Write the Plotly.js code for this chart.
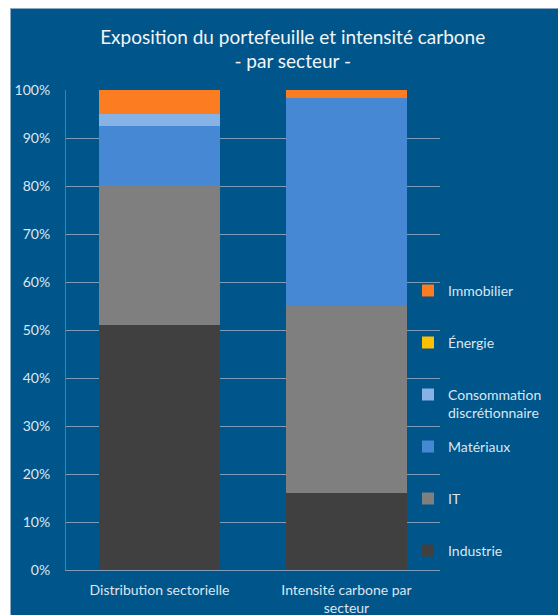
<!DOCTYPE html>
<html>
<head>
<meta charset="utf-8">
<script src="https://cdn.plot.ly/plotly-3.0.1.min.js"></script>
<style>
html,body{margin:0;padding:0;background:#ffffff;}
#frame{position:absolute;left:10px;top:8px;width:548px;height:607px;background:#00558a;border-top:1px solid #8aa9c4;border-left:1px solid #8aa9c4;box-sizing:border-box;}
#chart{position:absolute;left:0;top:0;width:547px;height:606px;}
</style>
</head>
<body>
<div id="frame"><div id="chart"></div></div>
<script>
const categories = ["Distribution sectorielle", "Intensité carbone par<br>secteur"];
const industrie = [51.0, 16.1];
const it = [29.2, 39.0];
const materiaux = [12.3, 43.2];
const consommation = [2.6, 0.1];
const energie = [0.0, 0.0];
const immobilier = [4.9, 1.6];

const seriesNames = ["Industrie", "IT", "Matériaux", "Consommation<br>discrétionnaire", "Énergie", "Immobilier"];
const seriesValues = [industrie, it, materiaux, consommation, energie, immobilier];
const seriesColors = ["#404040", "#7f7f7f", "#4788d5", "#86b2e6", "#ffc000", "#fb7c21"];

const traces = seriesNames.map((n, i) => ({
  type: "bar",
  name: n.indexOf("<br>") >= 0 ? n : n + "<br> ",
  x: categories,
  y: seriesValues[i].map(v => v / 100),
  marker: {color: seriesColors[i], line: {width: 0}},
  legendgroup: "g" + i,
  legendrank: 1000 - i,
  hoverinfo: "skip"
}));

const layout = {
  width: 547, height: 606,
  paper_bgcolor: "#00558a",
  plot_bgcolor: "#00558a",
  barmode: "stack",
  bargap: 0.355,
  margin: {l: 55, r: 117, t: 81, b: 45},
  title: {
    text: "Exposition du portefeuille et intensité carbone<br>- par secteur -",
    font: {family: "Lato, 'Open Sans', sans-serif", size: 19, color: "#f2f5f8"},
    x: 0.515, xanchor: "center", y: 0.943, yanchor: "top"
  },
  font: {family: "Lato, 'Open Sans', sans-serif", color: "#dce6f0"},
  xaxis: {
    showgrid: false,
    showline: true, linecolor: "#7d9cba", linewidth: 1,
    tickfont: {size: 14, color: "#dce6f0"},
    ticks: "outside", ticklen: 7, tickcolor: "rgba(0,0,0,0)"
  },
  yaxis: {
    range: [0, 1],
    tickformat: ".0%",
    dtick: 0.1,
    showgrid: true, gridcolor: "#7d9cba", gridwidth: 1,
    showline: true, linecolor: "#4f7ca6", linewidth: 1,
    zeroline: false,
    tickfont: {size: 14, color: "#dce6f0"},
    ticks: "outside", ticklen: 12, tickcolor: "rgba(0,0,0,0)"
  },
  showlegend: true,
  legend: {
    traceorder: "grouped",
    tracegroupgap: 12.6,
    valign: "top",
    x: 0.912, xanchor: "left",
    y: 0.615, yanchor: "top",
    font: {size: 14, color: "#dce6f0"},
    bgcolor: "rgba(0,0,0,0)",
    itemwidth: 30
  }
};

Plotly.newPlot("chart", traces, layout, {displayModeBar: false, staticPlot: true});
</script>
</body>
</html>
